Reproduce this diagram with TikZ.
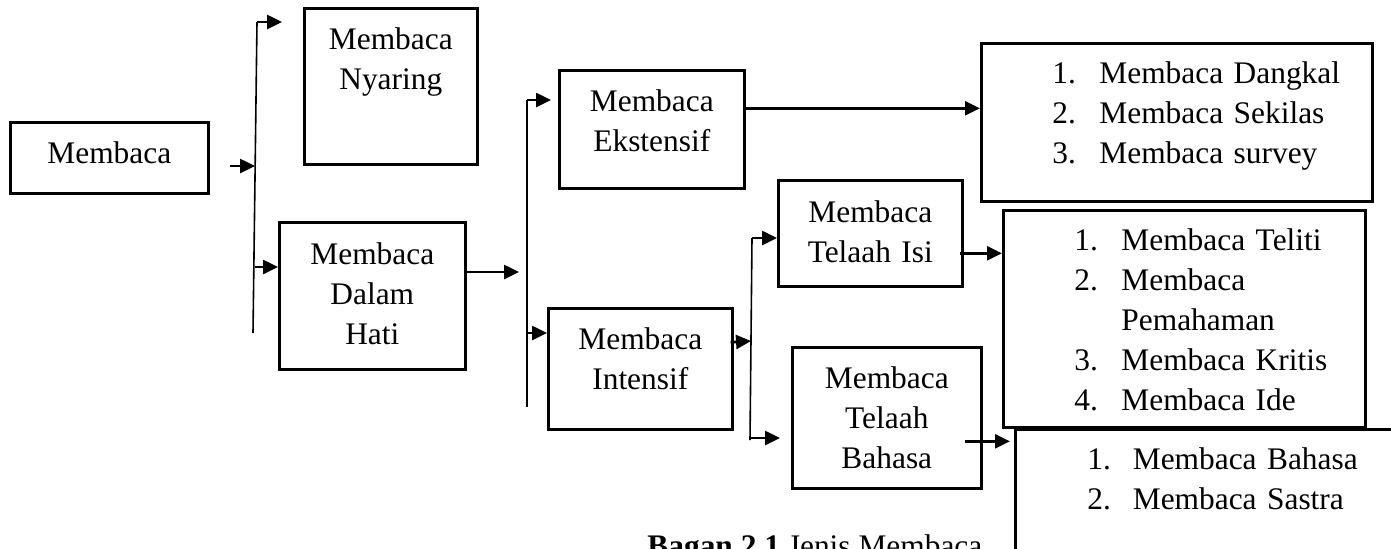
\documentclass[tikz,border=0pt]{standalone}
\usepackage{fontspec}
\setmainfont{Liberation Serif}
\usetikzlibrary{arrows.meta}

\begin{document}
\begin{tikzpicture}[x=0.5pt,y=-0.5pt,font=\fontsize{15.7}{20}\selectfont,
  box/.style={draw,line width=1.3pt,inner sep=0pt,anchor=north west,align=center},
  lst/.style={box,align=left},
  bar/.style={draw,line width=0.8pt},
  arrw/.style={-{Triangle[length=7.5pt,width=7pt]},line width=1.3pt}]

\useasboundingbox (0,0) rectangle (1391,548);
\clip (0,0) rectangle (1391,548);

\node[box,text width=99pt,text height=20.5pt,text depth=15pt] (mbc) at (9,121) {Membaca};
\node[box,text width=86.5pt,text height=20.5pt,text depth=57.5pt] (nyr) at (303,7) {Membaca\\Nyaring};
\node[box,text width=93pt,text height=21pt,text depth=52.5pt] (dlm) at (278,221) {Membaca\\Dalam\\Hati};
\node[box,text width=92.5pt,text height=20.5pt,text depth=38.5pt] (eks) at (558,69) {Membaca\\Ekstensif};
\node[box,text width=92pt,text height=20.5pt,text depth=40pt] (ints) at (547,307) {Membaca\\Intensif};
\node[box,text width=92pt,text height=21pt,text depth=32pt] (isi) at (777,179) {Membaca\\Telaah Isi};
\node[box,text width=94.5pt,text height=20.5pt,text depth=50pt] (bhs) at (791,346) {Membaca\\Telaah\\Bahasa};

\node[lst,text width=195.5pt,text height=20pt,text depth=59pt] (dkl) at (980,42)
  {\hspace*{35.5pt}\begin{tabular}[t]{@{}l@{\hspace{11.8pt}}l@{}}
   1. & Membaca Dangkal\\ 2. & Membaca Sekilas\\ 3. & Membaca survey\end{tabular}};
\node[lst,text width=181pt,text height=20pt,text depth=88.5pt] (tlt) at (1002,209)
  {\hspace*{35.5pt}\begin{tabular}[t]{@{}l@{\hspace{11.8pt}}l@{}}
   1. & Membaca Teliti\\ 2. & Membaca\\ & Pemahaman\\ 3. & Membaca Kritis\\ 4. & Membaca Ide\end{tabular}};
% runs past the page edge, as in the scan
\node[lst,text width=203pt,text height=20pt,text depth=66pt] (bsa) at (1014,428)
  {\hspace*{36pt}\begin{tabular}[t]{@{}l@{\hspace{11pt}}l@{}}
   1. & Membaca Bahasa\\ 2. & Membaca Sastra\end{tabular}};

\node[anchor=base west,inner sep=0pt] (cap) at (647,556) {\textbf{Bagan 2.1} Jenis Membaca};

\coordinate (in1) at (230,166);
\coordinate (f1t) at (257,22);
\coordinate (f1m) at (255,166);
\coordinate (f1l) at (255,267);
\coordinate (f1b) at (253,333);
\coordinate (to1) at (282,22);
\coordinate (in2) at (519,272);
\coordinate (f2t) at (527,100);
\coordinate (f2l) at (527,333);
\coordinate (f2b) at (527,407);
\coordinate (to2) at (551,100);
\coordinate (f3t) at (752,238);
\coordinate (f3m) at (751,341);
\coordinate (f3l) at (750,438);
\coordinate (f3b) at (750,440);
\coordinate (to3) at (780,438);
\coordinate (ek) at ([yshift=10.5pt]eks.east);
\coordinate (it) at ([xshift=-1.5pt,yshift=13.25pt]ints.east);
\coordinate (ii) at ([xshift=-2pt,yshift=-10pt]isi.east);
\coordinate (bb) at ([xshift=-9pt,yshift=-11.75pt]bhs.east);
\coordinate (to4) at (bb -| 1010,0);

\draw[bar] (f1t) -- (f1b);
\draw[bar] (f2t) -- (f2b);
\draw[bar] (f3t) -- (f3b);

\draw[arrw] (in1) -- (f1m);
\draw[arrw] (f1t) -- (to1);
\draw[arrw] (f1l) -- (dlm.west |- f1l);
\draw[arrw] (dlm.east |- in2) -- (in2);
\draw[arrw] (f2t) -- (to2);
\draw[arrw] (f2l) -- (ints.west |- f2l);
\draw[arrw] (ek) -- (ek -| dkl.west);
\draw[arrw] (it) -- (f3m);
\draw[arrw] (f3t) -- (isi.west |- f3t);
\draw[arrw] (f3l) -- (to3);
\draw[arrw] (ii) -- (ii -| tlt.west);
\draw[arrw] (bb) -- (to4);
\end{tikzpicture}
\end{document}
